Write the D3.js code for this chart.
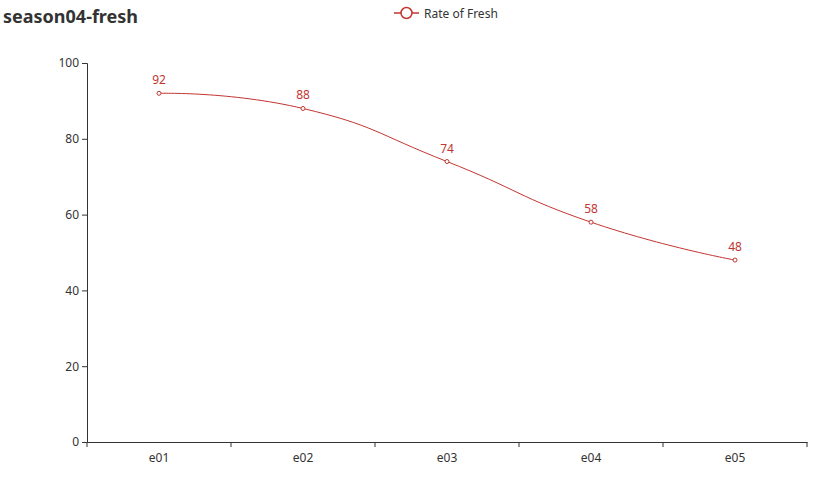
<!DOCTYPE html>
<html><head><meta charset="utf-8">
<script src="https://cdn.jsdelivr.net/npm/d3@7/dist/d3.min.js"></script>
<style>body{margin:0;background:#fff}text{font-family:"Microsoft YaHei","Noto Sans","DejaVu Sans",sans-serif}</style>
</head><body><svg id="c" width="834" height="499"></svg>
<script>
const categories = ["e01","e02","e03","e04","e05"];
const values = [92,88,74,58,48];
const yTicks = [0,20,40,60,80,100];
const seriesName = "Rate of Fresh";
const titleText = "season04-fresh";

const svg = d3.select("#c");
const red = "#c23531";
const x = d3.scaleBand().domain(categories).range([87,807]);
const y = d3.scaleLinear().domain([0,100]).range([442,63]);

svg.append("text").attr("x",3).attr("y",23).attr("font-size",18).attr("font-weight","bold").attr("fill","#333").text(titleText);

// legend
const lg = svg.append("g");
lg.append("line").attr("x1",394).attr("x2",419).attr("y1",13).attr("y2",13).attr("stroke",red).attr("stroke-width",1.5);
lg.append("circle").attr("cx",406.5).attr("cy",13).attr("r",5.5).attr("fill","#fff").attr("stroke",red).attr("stroke-width",1.5);
lg.append("text").attr("x",424).attr("y",17.5).attr("font-size",12).attr("fill","#333").text(seriesName);

// axes
const yAxis = svg.append("g").attr("transform","translate(87,0)")
  .call(d3.axisLeft(y).tickValues(yTicks).tickSize(5).tickPadding(3));
const xAxis = svg.append("g").attr("transform","translate(0,442)")
  .call(d3.axisBottom(x).tickSize(0).tickPadding(11));
[yAxis,xAxis].forEach(a=>{
  a.select(".domain").attr("stroke","#333");
  a.selectAll("text").attr("fill","#333").attr("font-size",12).style("font-family",'"Microsoft YaHei","Noto Sans","DejaVu Sans",sans-serif');
  a.selectAll(".tick line").attr("stroke","#333");
});
// x boundary ticks
const bounds = categories.map(c=>x(c)).concat([x.range()[1]]);
svg.append("g").selectAll("line").data(bounds).join("line")
  .attr("x1",d=>d).attr("x2",d=>d).attr("y1",442).attr("y2",447).attr("stroke","#333");

const cx = d=>x(d)+x.bandwidth()/2;
const pts = categories.map((c,i)=>[cx(c),y(values[i])]);
svg.append("path").attr("d",d3.line().curve(d3.curveCardinal.tension(-0.5))(pts))
  .attr("fill","none").attr("stroke",red).attr("stroke-width",1);
svg.append("g").selectAll("circle").data(pts).join("circle")
  .attr("cx",d=>d[0]).attr("cy",d=>d[1]).attr("r",2).attr("fill","#fff").attr("stroke",red).attr("stroke-width",1);
svg.append("g").selectAll("text").data(values).join("text")
  .attr("x",(d,i)=>pts[i][0]).attr("y",(d,i)=>pts[i][1]-9).attr("text-anchor","middle")
  .attr("font-size",12).attr("fill",red).text(d=>d);
</script></body></html>
